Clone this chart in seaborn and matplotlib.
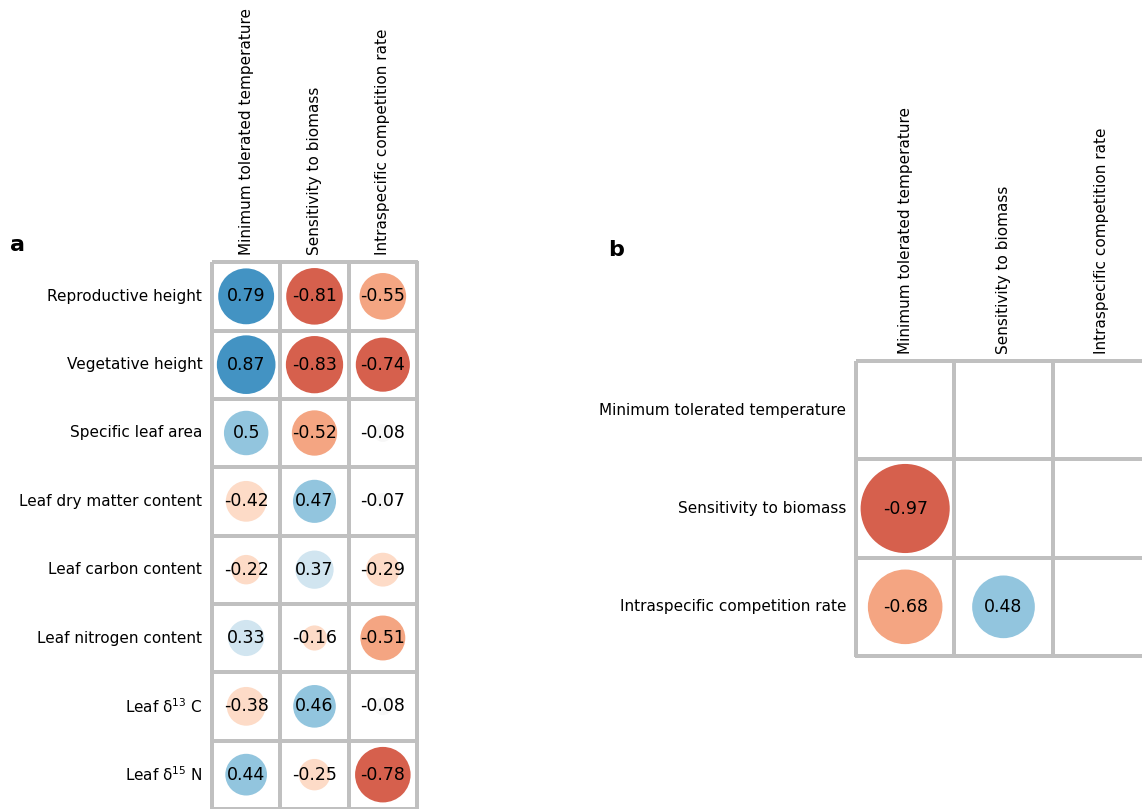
import numpy as np
import matplotlib
matplotlib.use("Agg")
import matplotlib.pyplot as plt
from matplotlib.colors import ListedColormap, BoundaryNorm
from matplotlib.patches import Circle
import seaborn as sns

# traits (rows of panel a) and the three response variables (columns)
traits = ["Reproductive height", "Vegetative height", "Specific leaf area",
          "Leaf dry matter content", "Leaf carbon content", "Leaf nitrogen content",
          r"Leaf δ$^{13}$ C", r"Leaf δ$^{15}$ N"]
responses = ["Minimum tolerated temperature", "Sensitivity to biomass",
             "Intraspecific competition rate"]

# panel a: correlation of each trait with each response
min_temp = [0.79, 0.87, 0.5, -0.42, -0.22, 0.33, -0.38, 0.44]
sens_biomass = [-0.81, -0.83, -0.52, 0.47, 0.37, -0.16, 0.46, -0.25]
intra_comp = [-0.55, -0.74, -0.08, -0.07, -0.29, -0.51, -0.08, -0.78]

# panel b: lower triangle between responses
b_sens_vs_temp = -0.97
b_intra_vs_temp = -0.68
b_intra_vs_sens = 0.48

# binned RdBu colours (brewer 11-class, middle 7)
rdbu = matplotlib.colormaps["RdBu"].resampled(11)
circle_cmap = ListedColormap([rdbu(i) for i in range(2, 9)])
circle_norm = BoundaryNorm([-1.011, -0.722, -0.433, -0.144, 0.144, 0.433, 0.722, 1.011], 7)

grid_color = "#c0c0c0"
label_size = 11
annot_size = 12.5


def fmt(v):
    return "" if np.isnan(v) else f"{v:g}"


def corr_panel(ax, mat, row_labels, col_labels):
    annot = np.array([[fmt(v) for v in row] for row in mat])
    sns.heatmap(np.nan_to_num(mat), ax=ax, cmap=ListedColormap(["white"]),
                cbar=False, square=True, linewidths=1.5, linecolor=grid_color,
                annot=annot, fmt="", annot_kws={"size": annot_size, "color": "black"},
                xticklabels=col_labels, yticklabels=row_labels)
    ax.collections[0].set_clip_on(False)
    for i in range(mat.shape[0]):
        for j in range(mat.shape[1]):
            v = mat[i, j]
            if np.isnan(v):
                continue
            ax.add_patch(Circle((j + 0.5, i + 0.5), 0.46 * np.sqrt(abs(v)),
                                facecolor=circle_cmap(circle_norm(v)), lw=0, zorder=2))
    ax.xaxis.tick_top()
    ax.set_xticklabels(col_labels, rotation=90, fontsize=label_size)
    ax.set_yticklabels(row_labels, rotation=0, fontsize=label_size)
    ax.tick_params(length=0)
    ax.tick_params(axis="x", pad=5)
    ax.tick_params(axis="y", pad=7)


fig = plt.figure(figsize=(11.42, 8.09), dpi=100)

mat_a = np.column_stack([min_temp, sens_biomass, intra_comp])
ax_a = fig.add_axes([212 / 1142, 0.0, 205 / 1142, 547 / 809])
corr_panel(ax_a, mat_a, traits, responses)

mat_b = np.full((3, 3), np.nan)
mat_b[1, 0] = b_sens_vs_temp
mat_b[2, 0] = b_intra_vs_temp
mat_b[2, 1] = b_intra_vs_sens
ax_b = fig.add_axes([856 / 1142, 153 / 809, 295 / 1142, 295 / 809])
corr_panel(ax_b, mat_b, responses, responses)

fig.text(10 / 1142, 1 - 245 / 809, "a", fontsize=16, fontweight="bold", va="center")
fig.text(608 / 1142, 1 - 250 / 809, "b", fontsize=16, fontweight="bold", va="center")

plt.savefig("out.png", dpi=100)
